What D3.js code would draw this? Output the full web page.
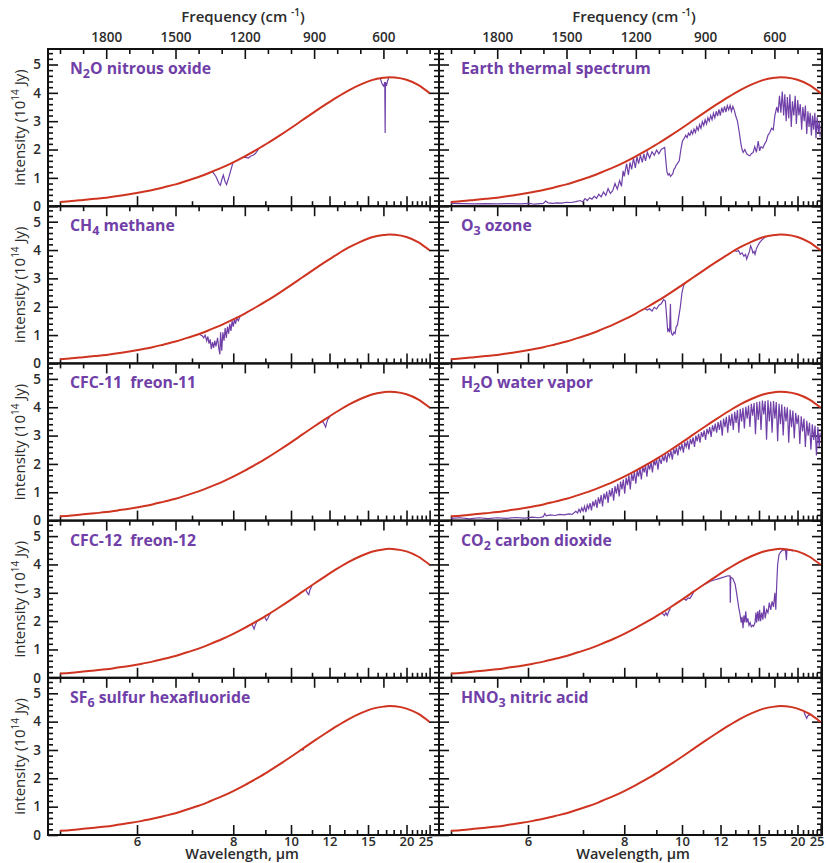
<!DOCTYPE html>
<html>
<head>
<meta charset="UTF-8">
<title>thermal spectra</title>
<style>
  body { margin: 0; background: #fff; }
  text { font-family: "Open Sans", "DejaVu Sans", sans-serif; }
</style>
</head>
<body>
<svg id="chart"></svg>
<script src="https://cdn.jsdelivr.net/npm/d3@7/dist/d3.min.js"></script>
<script>
const width = 826, height = 863;

// tick values
const freqMajor = [1800, 1500, 1200, 900, 600];
const freqMinor = [2000, 1900, 1700, 1600, 1400, 1300, 1100, 1000, 800, 700, 500, 400];
const waveMajor = [6, 8, 10, 12, 15, 20, 25];
const waveMinor = [5, 7, 9, 11, 13, 14, 16, 17, 18, 19, 21, 22, 23, 24];
const yMajor = [0, 1, 2, 3, 4, 5];

// red curve (blackbody), wavenumber cm-1 -> 10^14 Jy
const planckNu = [2000, 1950, 1900, 1850, 1800, 1750, 1700, 1650, 1600, 1550, 1500, 1450, 1400, 1350, 1300, 1250, 1200, 1150, 1100, 1050, 1000, 950, 900, 850, 800, 750, 700, 650, 600, 575, 550, 500, 450, 400];
const planckVal = [0.15, 0.18, 0.22, 0.26, 0.30, 0.36, 0.42, 0.49, 0.57, 0.67, 0.77, 0.90, 1.03, 1.19, 1.36, 1.55, 1.76, 1.99, 2.23, 2.49, 2.76, 3.04, 3.32, 3.59, 3.85, 4.09, 4.29, 4.45, 4.53, 4.55, 4.54, 4.46, 4.28, 3.99];

// purple spectra (null breaks the line)
const n2oNu = [1340, 1325, 1312, 1306, 1299, 1293, 1286, 1279, 1268, 1252, null, 1210, 1195, 1185, 1175, 1165, 1155, 1140, null, 614, 606, 599, 594, 592.5, 591, 587, 582, 576];
const n2oVal = [1.22, 1.05, 0.8, 0.74, 0.95, 1.1, 0.88, 0.76, 1.05, 1.52, null, 1.72, 1.72, 1.7, 1.76, 1.8, 1.85, 2.02, null, 4.52, 4.32, 4.24, 4.38, 2.58, 4.38, 4.25, 4.42, 4.55];

const ch4Nu = [1395, 1385, 1378, 1372, 1365, 1360, 1355, 1350, 1345, 1340, 1335, 1330, 1325, 1318, 1312, 1308, 1305, 1300, 1295, 1290, 1285, 1280, 1275, 1270, 1265, 1260, 1255, 1250, 1245, 1240, 1235, 1228, 1220];
const ch4Val = [1.02, 0.98, 0.9, 1.0, 0.8, 0.95, 0.7, 0.85, 0.5, 0.75, 0.55, 0.8, 0.6, 0.9, 0.5, 0.32, 1.1, 0.45, 1.1, 0.8, 1.25, 0.9, 1.3, 1.05, 1.4, 1.15, 1.5, 1.3, 1.55, 1.4, 1.6, 1.5, 1.68];

const cfc11Nu = [872, 862, 855, 850, 846, 840, 832];
const cfc11Val = [3.47, 3.5, 3.38, 3.3, 3.45, 3.58, 3.66];

const cfc12Nu = [1172, 1164, 1160, 1155, 1148, null, 1114, 1106, 1100, 1095, 1088, null, 936, 928, 923, 918, 910];
const cfc12Val = [1.92, 1.8, 1.72, 1.85, 1.99, null, 2.14, 2.03, 2.1, 2.2, 2.28, null, 3.1, 2.98, 2.93, 3.1, 3.24];

const sf6Nu = [952, 948, 944];
const sf6Val = [3.01, 3.0, 3.03];

const hno3Nu = [472, 465, 460, 456, 451, 446];
const hno3Val = [4.34, 4.2, 4.12, 4.2, 4.24, 4.22];

const o3Nu = [1160, 1150, 1140, 1130, 1120, 1110, 1100, 1090, 1080, 1072, 1066, 1062, 1058, 1054, 1050, 1048, 1045, 1040, 1035, 1030, 1025, 1020, 1015, 1008, 1000, 993, 985, null,
  775, 765, 755, 748, 740, 732, 725, 720, 715, 708, 703, 698, 693, 688, 684, 678, 672, 665, 655, 645, 635];
const o3Val = [1.93, 1.88, 1.93, 1.85, 1.98, 1.92, 2.05, 2.1, 2.25, 2.2, 1.6, 1.15, 1.2, 1.1, 2.1, 1.2, 1.05, 1.0, 1.1, 1.05, 1.3, 1.35, 1.6, 1.95, 2.5, 2.75, 2.85, null,
  4.0, 3.95, 3.98, 3.85, 3.9, 3.78, 3.85, 3.68, 3.8, 3.95, 4.15, 4.05, 3.9, 3.95, 3.85, 4.05, 4.15, 4.25, 4.35, 4.42, 4.5];

const co2Nu = [1090, 1082, 1076, 1070, 1064, 1058, 1050, null, 992, 982, 974, 966, 958, 950, null,
  900, 880, 860, 840, 820, 810, 800, 792, 791, 789, 780, 770, 762, 755, 748, 744, 740, 736, 732, 728, 724, 720, 715, 710, 705, 700, 695, 690, 684, 680, 677, 672, 668, 664, 660, 655, 650, 645, 640, 634, 628, 622, 616, 610, 604, 598, 594, 590, 586, 580, 572, 565, 558, 552, 548, 546, 540, 530, 520];
const co2Val = [2.28, 2.25, 2.2, 2.3, 2.2, 2.33, 2.45, null, 2.78, 2.74, 2.82, 2.8, 2.9, 3.02, null,
  3.3, 3.4, 3.45, 3.5, 3.55, 3.58, 3.6, 3.6, 2.65, 3.55, 3.5, 3.3, 2.9, 2.5, 2.2, 1.95, 2.15, 1.75, 2.2, 1.95, 2.35, 1.95, 2.1, 1.85, 1.95, 1.8, 1.85, 1.82, 1.95, 2.3, 1.95, 2.35, 2.0, 2.4, 2.0, 2.3, 2.05, 2.55, 2.1, 2.4, 2.3, 2.65, 2.4, 2.7, 2.5, 3.0, 2.4, 3.3, 4.0, 4.35, 4.45, 4.5, 4.5, 4.5, 4.15, 4.5, 4.5, 4.5, 4.47];

const earthNu = [2000, 1950, 1900, 1850, 1800, 1750, 1700, 1660, 1640, 1600, 1590, 1580, 1560, 1540, 1520, 1500, 1480, 1460, 1440, 1430, 1420, 1410, 1400, 1390, 1380, 1370, 1360, 1350, 1340, 1330, 1320, 1310, 1300, 1290, 1280, 1270, 1262,
  1255, 1250, 1240, 1232, 1225, 1218, 1210, 1202, 1195, 1188, 1180, 1172, 1165, 1158, 1150, 1140, 1130, 1120, 1110, 1100, 1090, 1080, 1075, 1070, 1065, 1060, 1055, 1050, 1045, 1040, 1035, 1030, 1025, 1020, 1012, 1005, 998,
  990, 984, 978, 972, 966, 960, 954, 948, 942, 936, 930, 924, 918, 912, 906, 900, 894, 888, 882, 876, 870, 864, 858, 852, 846, 840, 834, 828, 822, 816, 810, 804, 798, 792, 786, 780, 774,
  768, 760, 752, 745, 740, 735, 728, 720, 712, 706, 700, 692, 685, 678, 670, 664, 658, 650, 642, 635, 628, 620, 612, 605,
  598, 590, 584, 578, 572, 566, 560, 555, 549, 544, 538, 533, 527, 522, 516, 510, 505, 499, 494, 488, 482, 477, 471, 466, 460, 455, 450, 445, 440, 435, 430, 425, 420, 415, 410, 405, 402];
const earthVal = [0.10, 0.09, 0.08, 0.09, 0.08, 0.09, 0.08, 0.1, 0.07, 0.1, 0.18, 0.12, 0.1, 0.12, 0.11, 0.14, 0.13, 0.16, 0.2, 0.15, 0.27, 0.2, 0.3, 0.25, 0.35, 0.28, 0.42, 0.33, 0.5, 0.38, 0.62, 0.45, 0.55, 0.8, 0.6, 0.9, 0.7,
  1.25, 1.05, 1.5, 1.1, 1.55, 1.3, 1.7, 1.35, 1.75, 1.5, 1.8, 1.55, 1.85, 1.6, 1.9, 1.7, 1.92, 1.8, 1.98, 1.85, 2.0, 2.05, 2.07, 1.6, 1.2, 1.1, 1.15, 1.05, 1.1, 1.15, 1.3, 1.35, 1.45, 1.5, 1.6, 2.0, 2.3,
  2.4, 2.5, 2.42, 2.58, 2.5, 2.66, 2.55, 2.72, 2.6, 2.8, 2.68, 2.88, 2.75, 2.98, 2.85, 3.05, 2.9, 3.12, 3.0, 3.2, 3.05, 3.28, 3.12, 3.35, 3.18, 3.42, 3.2, 3.48, 3.3, 3.52, 3.32, 3.55, 3.4, 3.56, 3.35, 3.52, 3.4,
  3.2, 3.0, 2.6, 2.2, 2.0, 1.9, 2.0, 1.85, 1.8, 1.78, 1.85, 1.9, 2.1, 1.9, 2.3, 1.95, 2.1, 2.05, 2.2, 2.3, 2.5, 2.6, 2.75, 2.7,
  3.2, 3.5, 3.3, 3.9, 3.3, 4.05, 3.2, 3.95, 3.0, 3.85, 3.1, 3.95, 2.8, 3.7, 3.2, 3.9, 2.9, 3.75, 3.2, 3.6, 2.7, 3.5, 3.0, 3.55, 2.55, 3.35, 2.8, 3.3, 2.5, 3.2, 2.7, 3.3, 2.4, 3.15, 2.6, 3.0, 2.45];

const h2oNu = [2000, 1960, 1920, 1880, 1840, 1800, 1760, 1720, 1680, 1650, 1620, 1600, 1594, 1588, 1570, 1550, 1530, 1510, 1490, 1475,
  1460, 1452, 1446, 1440, 1434, 1428, 1422, 1416, 1410, 1404, 1398, 1392, 1386, 1380, 1374, 1368, 1362, 1356, 1350, 1344, 1338, 1332, 1326, 1320, 1314, 1308, 1302, 1296, 1290, 1284, 1278, 1272, 1266, 1260, 1254, 1248, 1242, 1236, 1230, 1224, 1218, 1212, 1206, 1200, 1194, 1188, 1182, 1176, 1170, 1164, 1158, 1152, 1146, 1140, 1134, 1128, 1122, 1116, 1110, 1104, 1098,
  1090, 1084, 1078, 1072, 1066, 1060, 1054, 1048, 1042, 1036, 1030, 1024, 1018, 1012, 1006, 1000, 994, 988, 982, 976, 970, 964, 958, 952, 946, 940, 934, 928, 922, 916, 910, 904, 898, 892, 886, 880, 874, 868, 862,
  856, 850, 844, 838, 832, 826, 820, 814, 808, 802, 796, 790, 784, 778, 772, 766, 760, 754, 748, 742, 736, 730, 724, 718, 712,
  706, 700, 694, 688, 682, 676, 670, 664, 658, 652, 646, 640, 634, 628, 622, 616, 610, 604, 598, 592, 586,
  580, 574, 568, 562, 556, 550, 544, 538, 532, 526, 520, 514, 508, 502, 496, 490, 484, 478, 472, 466, 460, 454, 448, 442, 436, 430, 424, 418, 412, 406, 402];
const h2oVal = [0.08, 0.1, 0.06, 0.1, 0.07, 0.1, 0.08, 0.11, 0.09, 0.12, 0.1, 0.14, 0.25, 0.17, 0.2, 0.18, 0.22, 0.2, 0.24, 0.22,
  0.33, 0.27, 0.4, 0.3, 0.45, 0.33, 0.5, 0.3, 0.55, 0.42, 0.62, 0.36, 0.68, 0.5, 0.74, 0.45, 0.82, 0.6, 0.9, 0.5, 0.95, 0.75, 1.02, 0.62, 1.08, 0.85, 1.15, 0.7, 1.22, 0.95, 1.3, 0.85, 1.38, 1.1, 1.45, 0.95, 1.52, 1.25, 1.6, 1.1, 1.66, 1.4, 1.72, 1.3, 1.78, 1.55, 1.85, 1.45, 1.9, 1.7, 1.95, 1.55, 2.0, 1.8, 2.06, 1.7, 2.12, 1.95, 2.17, 1.8, 2.22,
  2.0, 2.28, 2.1, 2.35, 2.05, 2.4, 2.25, 2.46, 2.15, 2.52, 2.35, 2.58, 2.3, 2.64, 2.5, 2.7, 2.4, 2.76, 2.6, 2.82, 2.5, 2.88, 2.7, 2.94, 2.6, 3.0, 2.8, 3.06, 2.75, 3.12, 2.95, 3.18, 2.85, 3.24, 3.05, 3.3, 2.95, 3.36, 3.15,
  3.42, 3.1, 3.48, 3.2, 3.54, 3.0, 3.6, 3.3, 3.66, 3.1, 3.72, 3.35, 3.78, 3.2, 3.84, 3.45, 3.9, 3.1, 3.94, 3.5, 3.98, 3.25, 4.02, 3.6, 4.06,
  3.3, 4.12, 3.7, 4.15, 3.05, 4.18, 3.55, 4.2, 3.2, 4.24, 3.75, 4.22, 2.85, 4.25, 3.5, 4.2, 3.1, 4.22, 3.6, 4.18, 2.8,
  4.12, 3.4, 4.1, 3.0, 4.02, 3.5, 4.0, 2.75, 3.92, 3.3, 3.88, 2.9, 3.8, 3.4, 3.72, 2.7, 3.68, 3.15, 3.6, 2.6, 3.52, 3.0, 3.45, 2.5, 3.4, 2.85, 3.35, 2.3, 3.3, 2.6, 3.1];

const panels = [
  { col: 0, row: 0, title: [['N'], ['2', 1], ['O nitrous oxide']], nu: n2oNu, val: n2oVal },
  { col: 1, row: 0, title: [['Earth thermal spectrum']], nu: earthNu, val: earthVal },
  { col: 0, row: 1, title: [['CH'], ['4', 1], [' methane']], nu: ch4Nu, val: ch4Val },
  { col: 1, row: 1, title: [['O'], ['3', 1], [' ozone']], nu: o3Nu, val: o3Val },
  { col: 0, row: 2, title: [['CFC-11\u00a0 freon-11']], nu: cfc11Nu, val: cfc11Val },
  { col: 1, row: 2, title: [['H'], ['2', 1], ['O water vapor']], nu: h2oNu, val: h2oVal },
  { col: 0, row: 3, title: [['CFC-12\u00a0 freon-12']], nu: cfc12Nu, val: cfc12Val },
  { col: 1, row: 3, title: [['CO'], ['2', 1], [' carbon dioxide']], nu: co2Nu, val: co2Val },
  { col: 0, row: 4, title: [['SF'], ['6', 1], [' sulfur hexafluoride']], nu: sf6Nu, val: sf6Val },
  { col: 1, row: 4, title: [['HNO'], ['3', 1], [' nitric acid']], nu: hno3Nu, val: hno3Val }
];

// layout
const top0 = 49, rowH = 157.2;
const colX = [48, 439];
const colW = [391, 383];
const nuLeft = 2052, pxPerNu = 0.231;
const yMax = rowH / 28.34;
const purple = '#7040a8', red = '#cf3420', ink = '#2b2b2b';

const svg = d3.select('#chart').attr('width', width).attr('height', height);

const y = d3.scaleLinear().domain([0, yMax]).range([rowH, 0]);
const yMinor = d3.range(0.2, 5.5, 0.2).filter(v => Math.abs(v - Math.round(v)) > 0.01);

function styleAxis(sel, size) {
  sel.select('.domain').remove();
  sel.selectAll('line').attr('stroke', '#111').attr('stroke-width', 1.6);
  sel.selectAll('text').attr('font-family', '"Open Sans", sans-serif')
    .attr('font-size', size || 13.5).attr('font-weight', 600).attr('fill', ink);
}

panels.forEach(p => {
  const w = colW[p.col];
  const g = svg.append('g')
    .attr('transform', `translate(${colX[p.col]},${top0 + p.row * rowH})`);
  const x = d3.scaleLinear().domain([nuLeft, nuLeft - w / pxPerNu]).range([0, w]);

  const clipId = 'clip' + p.col + p.row;
  g.append('clipPath').attr('id', clipId)
    .append('rect').attr('width', w).attr('height', rowH);

  // top: frequency
  g.append('g').call(d3.axisTop(x).tickValues(freqMajor).tickSizeInner(-10).tickSizeOuter(0)
    .tickPadding(7).tickFormat(p.row === 0 ? d3.format('d') : '')).call(styleAxis);
  g.append('g').call(d3.axisTop(x).tickValues(freqMinor).tickSizeInner(-5).tickSizeOuter(0)
    .tickFormat('')).call(styleAxis);

  // bottom: wavelength
  const wb = g.append('g').attr('transform', `translate(0,${rowH})`)
    .call(d3.axisBottom(x).tickValues(waveMajor.map(l => 1e4 / l)).tickSizeInner(-10).tickSizeOuter(0)
      .tickPadding(2).tickFormat(p.row === 4 ? (d => Math.round(1e4 / d)) : ''))
    .call(styleAxis, 13);
  wb.selectAll('text').filter(d => Math.round(1e4 / d) === 25).attr('dx', -4);
  g.append('g').attr('transform', `translate(0,${rowH})`)
    .call(d3.axisBottom(x).tickValues(waveMinor.map(l => 1e4 / l)).tickSizeInner(-5).tickSizeOuter(0)
      .tickFormat('')).call(styleAxis);

  // left / right intensity ticks
  g.append('g').call(d3.axisLeft(y).tickValues(yMajor).tickSizeInner(-10).tickSizeOuter(0)
    .tickPadding(7).tickFormat(p.col === 0 ? d3.format('d') : '')).call(styleAxis);
  g.append('g').call(d3.axisLeft(y).tickValues(yMinor).tickSizeInner(-5).tickSizeOuter(0)
    .tickFormat('')).call(styleAxis);
  g.append('g').attr('transform', `translate(${w},0)`)
    .call(d3.axisRight(y).tickValues(yMajor).tickSizeInner(-10).tickSizeOuter(0).tickFormat(''))
    .call(styleAxis);
  g.append('g').attr('transform', `translate(${w},0)`)
    .call(d3.axisRight(y).tickValues(yMinor).tickSizeInner(-5).tickSizeOuter(0).tickFormat(''))
    .call(styleAxis);

  const plot = g.append('g').attr('clip-path', `url(#${clipId})`);

  const spec = p.nu.map((n, i) => ({ n: n, v: p.val[i] }));
  plot.append('path').datum(spec)
    .attr('fill', 'none').attr('stroke', purple).attr('stroke-width', 1.2)
    .attr('d', d3.line().defined(d => d.n != null && d.v != null)
      .x(d => x(d.n)).y(d => y(d.v)));

  const bb = planckNu.map((n, i) => ({ n: n, v: planckVal[i] }));
  plot.append('path').datum(bb)
    .attr('fill', 'none').attr('stroke', red).attr('stroke-width', 2)
    .attr('d', d3.line().curve(d3.curveMonotoneX).x(d => x(d.n)).y(d => y(d.v)));

  g.append('rect').attr('width', w).attr('height', rowH)
    .attr('fill', 'none').attr('stroke', '#111').attr('stroke-width', 2);

  const t = g.append('text').attr('x', 22).attr('y', 25)
    .attr('fill', purple).attr('font-size', 15.8).attr('font-weight', 700)
    .style('white-space', 'pre');
  let shifted = false;
  p.title.forEach(part => {
    const ts = t.append('tspan').text(part[0]);
    if (part[1]) { ts.attr('font-size', 12.5).attr('dy', 4); shifted = true; }
    else if (shifted) { ts.attr('dy', -4); shifted = false; }
  });
});

// y labels
d3.range(5).forEach(r => {
  const t = svg.append('text')
    .attr('transform', `translate(25,${top0 + r * rowH + rowH / 2}) rotate(-90)`)
    .attr('text-anchor', 'middle').attr('font-size', 15).attr('font-weight', 500).attr('fill', ink);
  t.append('tspan').text('intensity (10');
  t.append('tspan').attr('font-size', 10).attr('dy', -6).text('14');
  t.append('tspan').attr('dy', 6).text(' Jy)');
});

// axis titles
colX.forEach((cx, i) => {
  const t = svg.append('text').attr('x', cx + 195).attr('y', 22)
    .attr('text-anchor', 'middle').attr('font-size', 15).attr('font-weight', 600).attr('fill', ink);
  t.append('tspan').text('Frequency (cm ');
  t.append('tspan').attr('font-size', 10).attr('dy', -6).text('-1');
  t.append('tspan').attr('dy', 6).text(')');

  svg.append('text').attr('x', cx + 194).attr('y', 859)
    .attr('text-anchor', 'middle').attr('font-size', 14.5).attr('font-weight', 600).attr('fill', ink)
    .text('Wavelength, \u03bcm');
});
</script>
</body>
</html>
